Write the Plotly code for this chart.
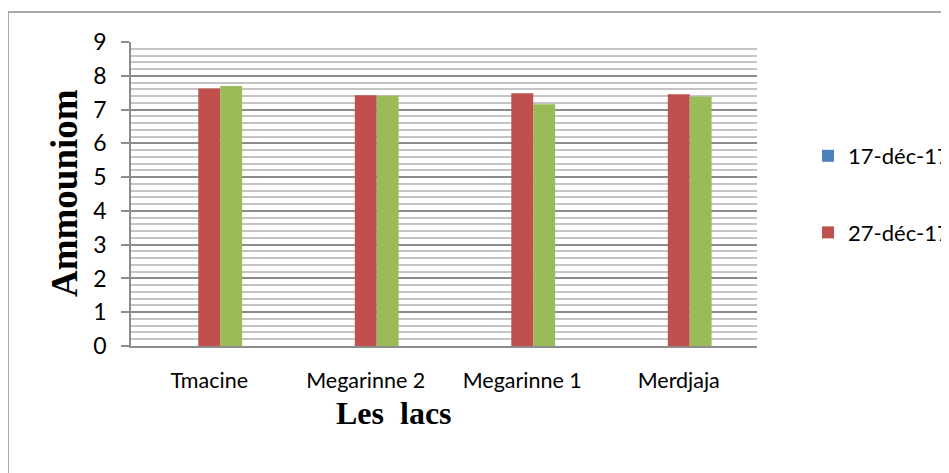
import plotly.graph_objects as go

lacs = ["Tmacine", "Megarinne 2", "Megarinne 1", "Merdjaja"]
series_names = ["17-déc-17", "27-déc-17", "3e date"]
vals_17dec = [0, 0, 0, 0]
vals_27dec = [7.62, 7.42, 7.48, 7.45]
vals_third = [7.70, 7.41, 7.16, 7.39]
colors = ["#4F81BD", "#C0504D", "#9BBB59"]

OFF = 8  # default body margin of the html page
W, H = 949 - OFF, 473 - OFF
px_left, px_right, px_top, px_bottom = 131, 757, 42, 346  # plot area in window pixels
L = px_left - OFF
T = px_top - OFF
pw = px_right - px_left
ph = px_bottom - px_top
R = W - L - pw
B = H - T - ph


def fx(px):
    return (px - px_left) / pw


def fy(py):
    return (px_bottom - py) / ph


fig = go.Figure()
for i, (name, vals) in enumerate(zip(series_names, [vals_17dec, vals_27dec, vals_third])):
    fig.add_trace(go.Bar(
        x=lacs, y=vals, name=name, marker=dict(color=colors[i], line=dict(width=0)),
        showlegend=(i < 2), legendgroup=str(i),
    ))

fig.update_layout(
    width=W, height=H,
    margin=dict(l=L, r=R, t=T, b=B, autoexpand=False),
    paper_bgcolor="white", plot_bgcolor="white",
    barmode="group", bargap=0.58, bargroupgap=0,
    font=dict(family="Lato, sans-serif", color="black"),
    legend=dict(
        x=fx(808), xanchor="left", y=fy(135), yanchor="top",
        font=dict(size=22, family="Lato, sans-serif"),
        traceorder="grouped", tracegroupgap=45,
        bgcolor="rgba(0,0,0,0)",
    ),
    xaxis=dict(
        showgrid=False, showline=True, linecolor="#8C8C8C", linewidth=1.5,
        ticks="", tickfont=dict(size=21.5, family="Lato, sans-serif"),
        ticklabelstandoff=14,
    ),
    yaxis=dict(
        range=[0, 9], dtick=1, showline=True, linecolor="#8C8C8C", linewidth=1.5,
        ticks="outside", ticklen=8, tickcolor="#8C8C8C", tickwidth=1.5,
        tickfont=dict(size=23, family="Lato, sans-serif"),
        ticklabelstandoff=10,
        showgrid=True, gridcolor="#8C8C8C", gridwidth=1.5,
        minor=dict(dtick=0.2, showgrid=True, gridcolor="#C4C4C4", gridwidth=1.5),
        zeroline=False,
    ),
)

fig.add_annotation(
    text="<b>Ammouniom</b>", xref="paper", yref="paper",
    x=fx(64), y=fy(193), textangle=-90, showarrow=False,
    font=dict(family="Liberation Serif, Times New Roman, serif", size=37, color="black"),
    xanchor="center", yanchor="middle",
)
fig.add_annotation(
    text="<b>Les  lacs</b>", xref="paper", yref="paper",
    x=fx(394), y=fy(413), showarrow=False,
    font=dict(family="Liberation Serif, Times New Roman, serif", size=32, color="black"),
    xanchor="center", yanchor="middle",
)

# outer chart frame (top and left edges visible)
fig.add_shape(type="line", xref="paper", yref="paper", x0=fx(8), x1=fx(960), y0=fy(12), y1=fy(12),
              line=dict(color="#8C8C8C", width=1.5))
fig.add_shape(type="line", xref="paper", yref="paper", x0=fx(8), x1=fx(8), y0=fy(12), y1=fy(490),
              line=dict(color="#8C8C8C", width=1.5))

fig.write_html("out.html")
